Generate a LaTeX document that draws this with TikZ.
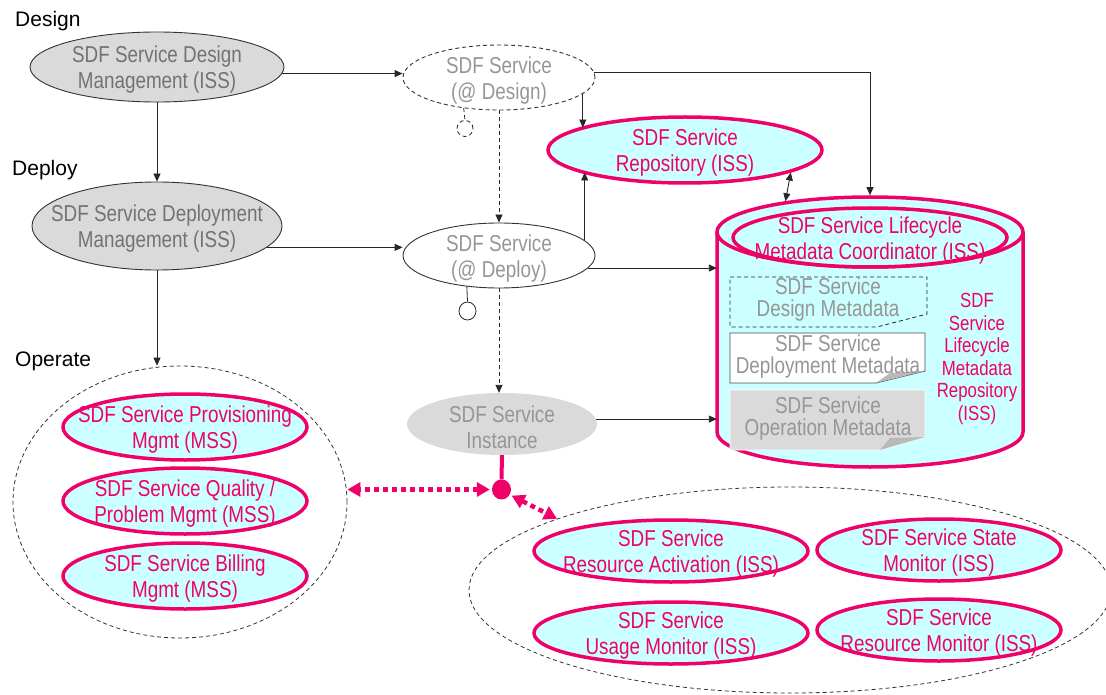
\documentclass[tikz,border=0pt]{standalone}
\usepackage{fontspec}
\setmainfont{Liberation Sans}
\newfontfamily\narrowfont{Liberation Sans}[FakeStretch=0.82]
\usetikzlibrary{shapes.geometric,arrows.meta}
\definecolor{mag}{RGB}{240,0,105}
\definecolor{cyanfill}{RGB}{204,255,255}
\definecolor{greyfill}{RGB}{218,218,218}
\definecolor{greytext}{RGB}{115,115,115}
\definecolor{lighttext}{RGB}{150,150,150}
\definecolor{foldgrey}{RGB}{185,185,185}
\newcommand\boxfont{\narrowfont\fontsize{23}{26}\selectfont}
\newcommand\docfont{\narrowfont\fontsize{23}{22}\selectfont}
\newcommand\headfont{\fontsize{21}{25}\selectfont}

\begin{document}
\begin{tikzpicture}[x=1pt,y=-1pt,
  ell/.style={ellipse, inner sep=0pt},
  txt/.style={align=center, font=\boxfont, inner sep=0pt, yshift=-3pt},
  doctxt/.style={align=center, font=\docfont, inner sep=0pt, text=lighttext},
  head/.style={font=\headfont, text=black, inner sep=0pt, anchor=west},
  mgmt/.style={ell, draw=black!80, line width=0.9pt, fill=greyfill},
  svc/.style={ell, draw=black!80, line width=0.9pt},
  magell/.style={ell, draw=mag, line width=3.5pt, fill=cyanfill},
  grp/.style={ell, draw=black!80, line width=0.8pt, dash pattern=on 4pt off 3pt},
  dsh/.style={dash pattern=on 4pt off 3pt},
  arr/.style={-{Triangle[length=8pt,width=7pt]}, line width=0.9pt, draw=black!85},
  darr/.style={{Triangle[length=8pt,width=7pt]}-{Triangle[length=8pt,width=7pt]}, line width=0.9pt, draw=black!85},
  magarr/.style={draw=mag, line width=4.5pt, dash pattern=on 5pt off 4pt,
    {Triangle[length=13pt,width=14pt]}-{Triangle[length=13pt,width=14pt]}},
]
\path[use as bounding box] (0,0) rectangle (1106,695);

% phase headings
\node[head] (hdes) at (15,21) {Design};
\node[head] (hdep) at (12,170) {Deploy};
\node[head] (hop) at (15,361) {Operate};

% management processes
\node[mgmt, minimum width=254, minimum height=70,
  label={[txt,text=greytext]center:{SDF Service Design\\Management (ISS)}}] (desmgmt) at (157,67) {};
\node[mgmt, minimum width=250, minimum height=88,
  label={[txt,text=greytext]center:{SDF Service Deployment\\Management (ISS)}}] (depmgmt) at (157,226) {};

% service states
\node[svc, dsh, minimum width=192, minimum height=65,
  label={[txt,text=lighttext]center:{SDF Service\\(@ Design)}}] (desatd) at (499,77.5) {};
\node[svc, fill=white, minimum width=192, minimum height=65,
  label={[txt,text=lighttext]center:{SDF Service\\(@ Deploy)}}] (depatd) at (499,255.5) {};
\node[ell, fill=greyfill, minimum width=190, minimum height=62,
  label={[txt,text=lighttext]center:{SDF Service\\Instance}}] (inst) at (502,424) {};

% interface lollipops
\node[circle, draw=black!85, line width=0.8pt, dsh, minimum size=16, inner sep=0pt] (lolly1) at (465,128.5) {};
\node[ell, draw=black!85, line width=0.8pt, fill=white, minimum width=17, minimum height=18] (lolly2) at (467.5,311) {};

% repository
\node[magell, minimum width=274, minimum height=66,
  label={[txt,text=mag]center:{SDF Service\\Repository (ISS)}}] (repo) at (685,150) {};

% metadata repository cylinder
\fill[cyanfill] (717,232) -- (717,432) arc(180:0:153 and 35) -- (1023,232) -- cycle;
\draw[mag, line width=3.5pt] (717,232) -- (717,432) arc(180:0:153 and 35) -- (1023,232);
\node[ell, draw=mag, line width=3.5pt, fill=cyanfill, minimum width=306, minimum height=70] (cyltop) at (870,232) {};
\node[minimum width=306, minimum height=200, inner sep=0pt] (cylside) at (870,332) {};
\node[magell, minimum width=274, minimum height=59,
  label={[txt,text=mag]center:{SDF Service Lifecycle\\Metadata Coordinator (ISS)}}] (coord) at (870,237.5) {};

% metadata documents
\draw[black!85, line width=0.8pt, dsh] (730,277) -- (927,277) -- (927,314) -- (877,327) -- (730,327) -- cycle;
\node[doctxt] (mdes) at (828,300) {SDF Service\\Design Metadata};
\draw[black!70, line width=0.9pt, fill=white] (730,333) -- (925,333) -- (925,371) -- (876,383) -- (730,383) -- cycle;
\fill[foldgrey] (876,383) -- (925,371) -- (890,373) -- cycle;
\node[doctxt] (mdep) at (828,357) {SDF Service\\Deployment Metadata};
\draw[white, line width=0.9pt, fill=greyfill] (730,390) -- (925,390) -- (925,437) -- (880,450) -- (730,450) -- cycle;
\fill[foldgrey] (880,450) -- (925,437) -- (890,438) -- cycle;
\node[doctxt] (mop) at (828,419) {SDF Service\\Operation Metadata};

\node[align=center, font=\narrowfont\fontsize{20.5}{22.5}\selectfont, text=mag, inner sep=0pt] (cyllabel) at (977,359)
  {SDF\\Service\\Lifecycle\\Metadata\\Repository\\(ISS)};

% operate groups
\node[grp, minimum width=334, minimum height=272] (opgrp) at (180,502) {};
\node[magell, minimum width=244, minimum height=66,
  label={[txt,text=mag]center:{SDF Service Provisioning\\Mgmt (MSS)}}] (prov) at (185,427) {};
\node[magell, minimum width=244, minimum height=66,
  label={[txt,text=mag]center:{SDF Service Quality /\\Problem Mgmt (MSS)}}] (qual) at (185,501) {};
\node[magell, minimum width=244, minimum height=66,
  label={[txt,text=mag]center:{SDF Service Billing\\Mgmt (MSS)}}] (bill) at (185,576) {};

\node[grp, minimum width=642, minimum height=206] (svcgrp) at (790,590) {};
\node[magell, minimum width=274, minimum height=62,
  label={[txt,text=mag]center:{SDF Service\\Resource Activation (ISS)}}] (act) at (671,551) {};
\node[magell, minimum width=244, minimum height=62,
  label={[txt,text=mag]center:{SDF Service State\\Monitor (ISS)}}] (state) at (939,550) {};
\node[magell, minimum width=274, minimum height=62,
  label={[txt,text=mag]center:{SDF Service\\Usage Monitor (ISS)}}] (usage) at (671,633) {};
\node[magell, minimum width=244, minimum height=62,
  label={[txt,text=mag]center:{SDF Service\\Resource Monitor (ISS)}}] (resmon) at (939,630) {};

% instance hub
\node[ell, fill=mag, minimum width=19, minimum height=20] (dot) at (501.5,489.5) {};
\draw[mag, line width=4pt] (inst.south) -- (dot.north);
\draw[magarr, shorten <=2pt] (dot.west) -- (dot.west -| opgrp.east);
\draw[magarr, shorten <=2pt] (dot.-32) -- (svcgrp.163.6);

% flow connectors
\draw[arr] (desmgmt.south) -- (depmgmt.north);
\draw[arr] (depmgmt.south) -- (depmgmt.south |- opgrp.north);
\draw[arr] (desmgmt.-3) -- (desmgmt.-3 -| desatd.west);
\draw[arr] (depmgmt.-11.5) -- (depmgmt.-11.5 -| depatd.west);
\draw[arr, dsh] (desatd.south) -- (depatd.north);
\draw[arr, dsh] (depatd.south) -- (depatd.south |- inst.north);
\draw[black!85, line width=0.8pt, dsh] (desatd.221.8) -- (lolly1.north);
\draw[black!85, line width=0.8pt] (depatd.224.3) -- (lolly2.north);
\draw[arr] (desatd.-11.1) -- (desatd.-11.1 |- repo.168);
\draw[arr] (depatd.10.6) -- (depatd.10.6 |- repo.192);
\draw[arr] (desatd.3) -| (cyltop.north);
\draw[darr] (repo.-12.5) -- (cyltop.160.8);
\draw[arr] (depatd.-8) -- (depatd.-8 -| cylside.west);
\draw[arr] (inst.3) -- (inst.3 -| cylside.west);
\end{tikzpicture}
\end{document}
